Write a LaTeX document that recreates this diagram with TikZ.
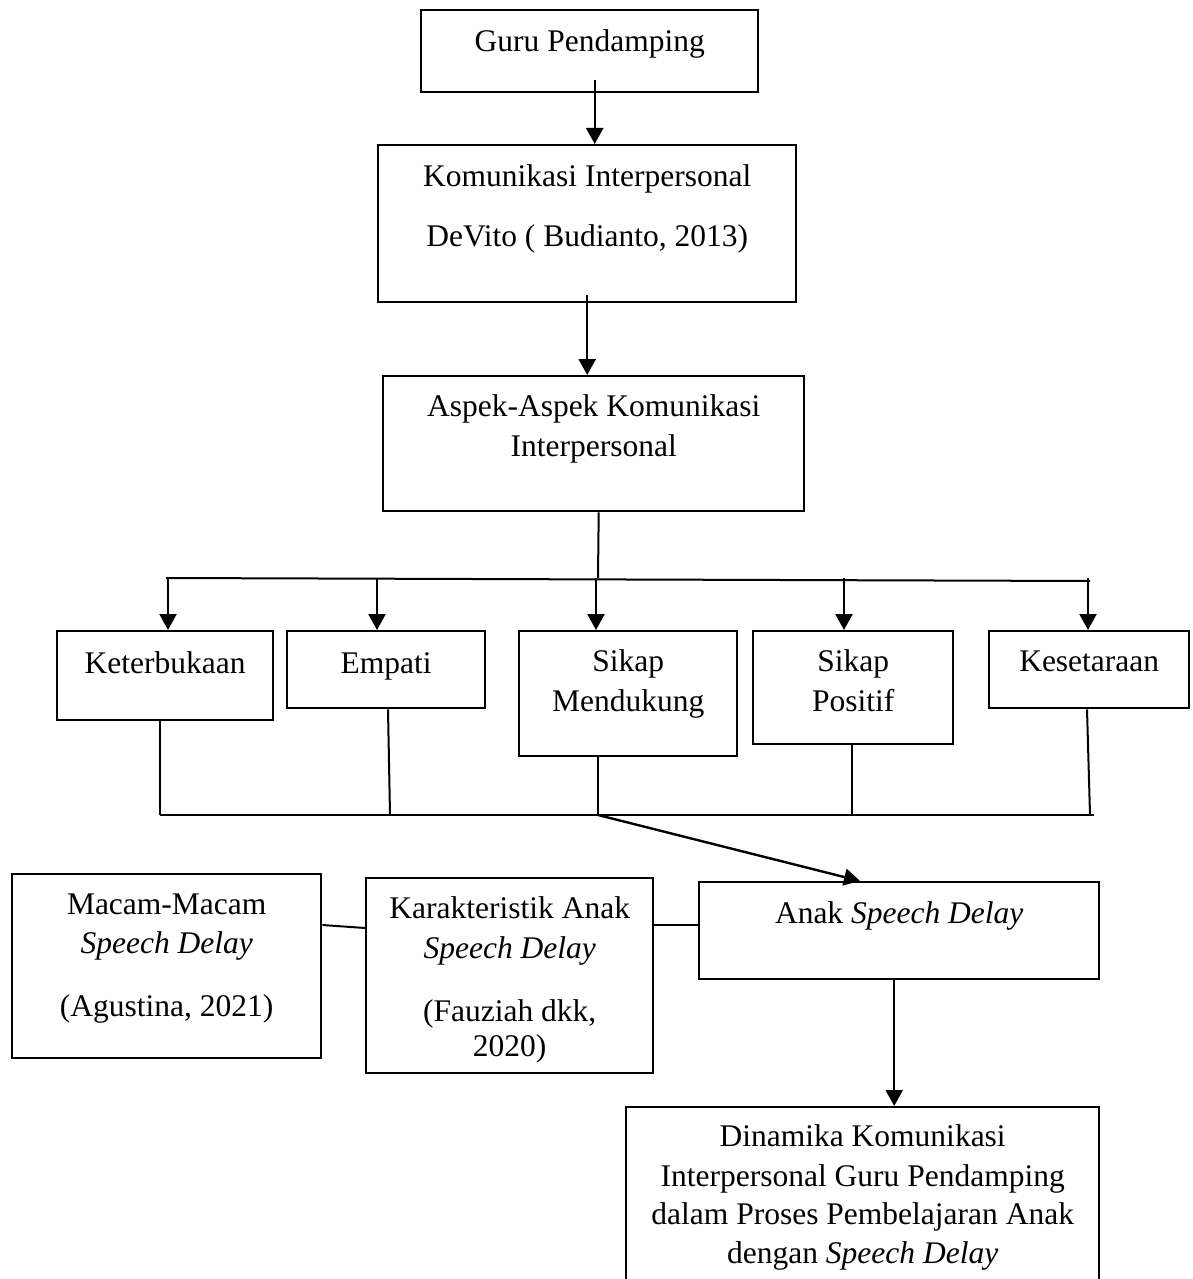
\documentclass[tikz,border=0pt]{standalone}
\usepackage{fontspec}
\setmainfont{Liberation Serif}
\usetikzlibrary{arrows.meta}

\tikzset{
  box/.style={draw, line width=2.4pt, inner sep=0pt, anchor=north west, align=center,
    font=\fontsize{31.5}{39}\selectfont},
  arr/.style={line width=2.4pt, -{Triangle[length=16pt,width=17pt]}},
  ln/.style={line width=2pt}
}

\begin{document}
\begin{tikzpicture}[x=1pt, y=-1pt]
    \useasboundingbox (0,0) rectangle (1192,1279);
    \clip (0,0) rectangle (1192,1279);

    % Top chain
    \node[box, minimum width=337pt, text height=41pt, text depth=41pt] (guru) at (420,9) {Guru Pendamping};
    \node[box, minimum width=418pt, text height=101pt, text depth=56pt] (komunikasi) at (377,144)
        {Komunikasi Interpersonal\\[21pt]DeVito ( Budianto, 2013)};
    \node[box, minimum width=421pt, text height=80pt, text depth=55pt] (aspek) at (382,375)
        {Aspek-Aspek Komunikasi\\[1pt]Interpersonal};

    \draw[arr] ([xshift=5pt,yshift=13pt]guru.south) -- ([xshift=5pt]guru.south |- komunikasi.north);
    \draw[arr] ([yshift=8pt]komunikasi.south) -- (komunikasi.south |- aspek.north);

    % Five aspects
    \node[box, minimum width=216pt, text height=42pt, text depth=47pt] (keterbukaan) at (56,630) {Keterbukaan};
    \node[box, minimum width=198pt, text height=42pt, text depth=35pt] (empati) at (286,630) {Empati};
    \node[box, minimum width=218pt, text height=80pt, text depth=45pt] (mendukung) at (518,630) {Sikap\\[1pt]Mendukung};
    \node[box, minimum width=200pt, text height=80pt, text depth=33pt] (positif) at (752,630) {Sikap\\[1pt]Positif};
    \node[box, minimum width=200pt, text height=40pt, text depth=37pt] (kesetaraan) at (988,630) {Kesetaraan};

    % Split bus above the aspects
    \coordinate (split) at (598,578);
    \draw[ln] ([xshift=5pt]aspek.south) -- (split);
    \draw[ln] (166,578) -- (1090,581);
    \foreach \n/\x in {keterbukaan/168, empati/377, mendukung/596, positif/844, kesetaraan/1088} {
        \draw[arr] (\x,0 |- split) -- (\x,0 |- \n.north);
    }

    % Join bus below the aspects
    \coordinate (join) at (598,815);
    \foreach \n/\x/\xb in {keterbukaan/160/160, empati/388/390, mendukung/598/598, positif/852/852, kesetaraan/1087/1090} {
        \draw[ln] (\x,0 |- \n.south) -- (\xb,0 |- join);
    }
    \draw[ln] (160,815) -- (1094,815);

    % Speech delay row
    \node[box, minimum width=309pt, text height=142pt, text depth=42pt] (macam) at (11,873)
        {Macam-Macam\\\textit{Speech Delay}\\[24pt](Agustina, 2021)};
    \node[box, minimum width=287pt, text height=178pt, text depth=17pt] (karakteristik) at (365,877)
        {Karakteristik Anak\\[1pt]\textit{Speech Delay}\\[24pt](Fauziah dkk,\\[-4pt]2020)};
    \node[box, minimum width=400pt, text height=41pt, text depth=56pt] (anak) at (698,881) {Anak \textit{Speech Delay}};

    \draw[arr] (join) -- (860,0 |- anak.north);
    \draw[ln] (macam.east |- 0,925) -- (karakteristik.west |- 0,928);
    \draw[ln] (karakteristik.east |- 0,925) -- (anak.west |- 0,925);

    % Result
    \node[box, minimum width=473pt, text height=156pt, text depth=28pt] (dinamika) at (625,1106)
        {Dinamika Komunikasi\\[1pt]Interpersonal Guru Pendamping\\[-1pt]dalam Proses Pembelajaran Anak\\dengan \textit{Speech Delay}};
    \draw[arr] ([xshift=-5pt]anak.south) -- ([xshift=-5pt]anak.south |- dinamika.north);
\end{tikzpicture}
\end{document}
